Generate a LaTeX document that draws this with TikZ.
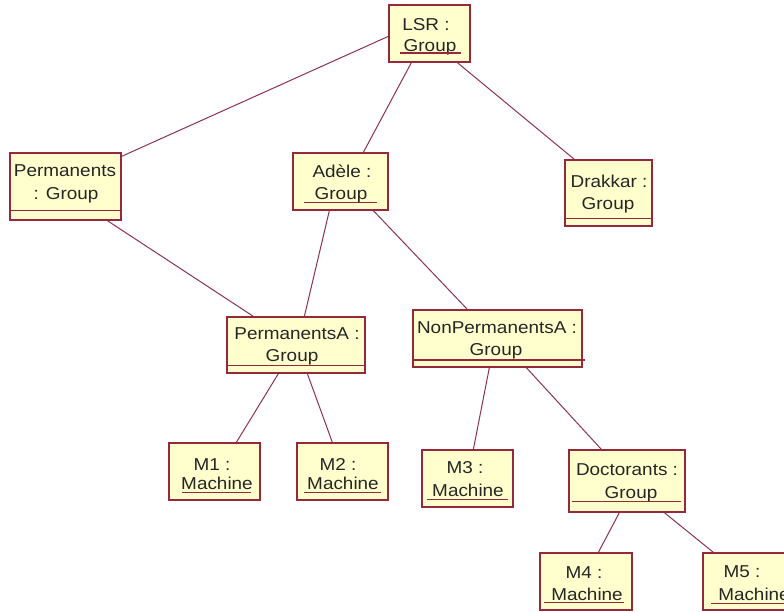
\documentclass[tikz,border=0pt]{standalone}
\usepackage{fontspec}
\setmainfont{Liberation Sans}[FakeStretch=1.1]
\usetikzlibrary{calc}
\definecolor{boxfill}{RGB}{255,255,206}
\definecolor{boxline}{RGB}{150,40,60}
\definecolor{conline}{RGB}{140,50,85}
\tikzset{
  obj/.style={draw=boxline, fill=boxfill, line width=1.3pt, rectangle, inner sep=0pt},
  txt/.style={font=\fontsize{17.2}{20}\selectfont, anchor=base, inner sep=0pt, text=black!85},
  ulin/.style={draw=boxline, line width=1.3pt},
  conn/.style={draw=conline, line width=1pt}
}
\begin{document}
\begin{tikzpicture}[x=1pt,y=-1pt]
\useasboundingbox (0,0) rectangle (784,611);
\clip (0,0) rectangle (784,611);
\fill[white] (0,0) rectangle (784,611);

% boxes (centre x, centre y)
\node[obj, minimum width=81pt, minimum height=57pt] (lsr) at (429.5,33.5) {};
\node[obj, minimum width=111pt, minimum height=67pt] (perm) at (65.5,186.5) {};
\node[obj, minimum width=95pt, minimum height=57pt] (adele) at (340.5,181.5) {};
\node[obj, minimum width=87pt, minimum height=66pt] (drakkar) at (608.5,193) {};
\node[obj, minimum width=138pt, minimum height=56pt] (permA) at (296,345) {};
\node[obj, minimum width=169pt, minimum height=57pt] (npermA) at (497.5,338.5) {};
\node[obj, minimum width=91pt, minimum height=57pt] (m1) at (214.5,471.5) {};
\node[obj, minimum width=91pt, minimum height=57pt] (m2) at (342.5,471.5) {};
\node[obj, minimum width=91pt, minimum height=57pt] (m3) at (467.5,478.5) {};
\node[obj, minimum width=116pt, minimum height=62pt] (doct) at (627,481) {};
\node[obj, minimum width=92pt, minimum height=57pt] (m4) at (586,581.5) {};
\node[obj, minimum width=92pt, minimum height=57pt] (m5) at (749,581.5) {};

% texts
\node[txt] (lsrA) at (426,30) {LSR :};
\node[txt] (lsrB) at (430,51) {Group};
\draw[ulin] ($(lsr.north west)+(12,48.5)$) -- ($(lsr.north east)+(-10,48.5)$);

\node[txt] (permT1) at (65,176) {Permanents};
\node[txt] (permT2) at (66,199) {: Group};
\draw[ulin] ($(perm.north west)+(0,58)$) -- ($(perm.north east)+(0,58)$);

\node[txt] (adeleT1) at (342,177) {Adèle :};
\node[txt] (adeleT2) at (341,199) {Group};
\draw[ulin] ($(adele.north west)+(12,50)$) -- ($(adele.north east)+(-12,50)$);

\node[txt] (drakT1) at (609,187) {Drakkar :};
\node[txt] (drakT2) at (608,209) {Group};
\draw[ulin] ($(drakkar.north west)+(0,59)$) -- ($(drakkar.north east)+(0,59)$);

\node[txt] (permAT1) at (297,339) {PermanentsA :};
\node[txt] (permAT2) at (292,361) {Group};
\draw[ulin] ($(permA.north west)+(0,49)$) -- ($(permA.north east)+(0,49)$);

\node[txt] (npermAT1) at (497,333) {NonPermanentsA :};
\node[txt] (npermAT2) at (496,355) {Group};
\draw[ulin] ($(npermA.north west)+(0,50.5)$) -- ($(npermA.north east)+(2,50.5)$);

\node[txt] (m1T1) at (212,470) {M1 :};
\node[txt] (m1T2) at (217,489) {Machine};
\draw[ulin] ($(m1.north west)+(14,50)$) -- ($(m1.north east)+(-10,50)$);

\node[txt] (m2T1) at (338,470) {M2 :};
\node[txt] (m2T2) at (343,489) {Machine};
\draw[ulin] ($(m2.north west)+(8,50)$) -- ($(m2.north east)+(-8,50)$);

\node[txt] (m3T1) at (465,473) {M3 :};
\node[txt] (m3T2) at (468,496) {Machine};
\draw[ulin] ($(m3.north west)+(6,50)$) -- ($(m3.north east)+(-6,50)$);

\node[txt] (doctT1) at (627,475) {Doctorants :};
\node[txt] (doctT2) at (631,498) {Group};
\draw[ulin] ($(doct.north west)+(4,52)$) -- ($(doct.north east)+(-5,52)$);

\node[txt] (m4T1) at (584,578) {M4 :};
\node[txt] (m4T2) at (587,600) {Machine};
\draw[ulin] ($(m4.north west)+(5,50)$) -- ($(m4.north east)+(-9,50)$);

\node[txt] (m5T1) at (742,577) {M5 :};
\node[txt] (m5T2) at (754,600) {Machine};
\draw[ulin] ($(m5.north west)+(9,51)$) -- ($(m5.north east)+(-5,51)$);

% connectors
\draw[conn] ($(lsr.north west)+(0,32)$) -- ($(perm.north east)+(0,4)$);
\draw[conn] ($(lsr.south west)+(23,0)$) -- ($(adele.north west)+(71,0)$);
\draw[conn] ($(lsr.south west)+(69,0)$) -- ($(drakkar.north west)+(10,0)$);
\draw[conn] ($(perm.south west)+(98,0)$) -- ($(permA.north west)+(27,0)$);
\draw[conn] ($(adele.south west)+(37,0)$) -- ($(permA.north west)+(78,0)$);
\draw[conn] ($(adele.south west)+(81,0)$) -- ($(npermA.north west)+(55,0)$);
\draw[conn] ($(permA.south west)+(52,0)$) -- ($(m1.north west)+(68,0)$);
\draw[conn] ($(permA.south west)+(81,0)$) -- ($(m2.north west)+(36,0)$);
\draw[conn] ($(npermA.south west)+(77,0)$) -- ($(m3.north west)+(52,0)$);
\draw[conn] ($(npermA.south west)+(114,0)$) -- ($(doct.north west)+(33,0)$);
\draw[conn] ($(doct.south west)+(51,0)$) -- ($(m4.north west)+(59,0)$);
\draw[conn] ($(doct.south west)+(96,0)$) -- ($(m5.north west)+(11,0)$);
\end{tikzpicture}
\end{document}
